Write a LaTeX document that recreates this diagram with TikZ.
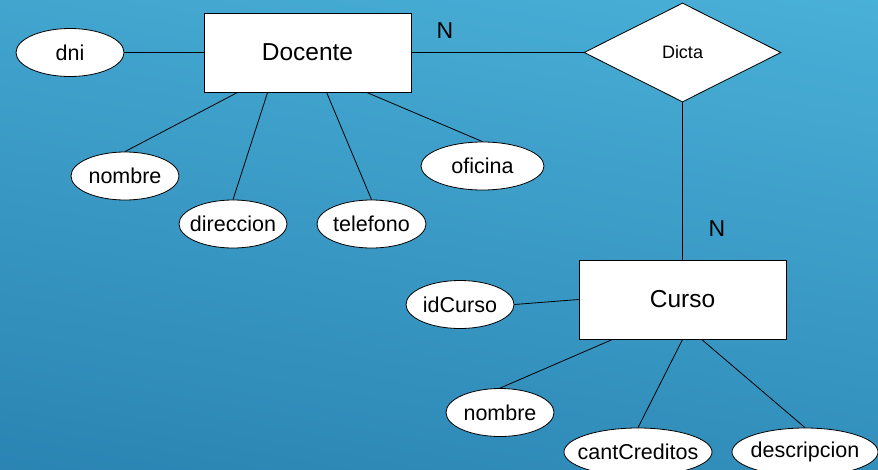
\documentclass[tikz,border=0pt]{standalone}
\usepackage{fontspec}
\setmainfont{Liberation Sans}
\usetikzlibrary{shapes.geometric}
\definecolor{bgtop}{RGB}{74,177,216}
\definecolor{bgbot}{RGB}{42,131,178}
\tikzset{
  entity/.style={draw=black, fill=white, line width=0.8pt, rectangle, minimum width=207pt, minimum height=79pt, inner sep=0pt, font=\fontsize{24.5}{28}\selectfont},
  attr/.style={draw=black, fill=white, line width=0.8pt, ellipse, minimum height=48pt, inner sep=0pt, font=\fontsize{21.5}{25}\selectfont},
  rel/.style={draw=black, fill=white, line width=0.8pt, diamond, minimum width=197pt, minimum height=99pt, inner sep=0pt, font=\fontsize{18}{21}\selectfont},
  conn/.style={draw=black, line width=0.8pt},
  card/.style={font=\fontsize{23}{26}\selectfont, inner sep=0pt}
}
\newcommand{\zb}[1]{\makebox[0pt]{#1}}
\begin{document}
\begin{tikzpicture}[x=1pt,y=-1pt]
\useasboundingbox (0,0) rectangle (878,469);
\shade[top color=bgtop, bottom color=bgbot, shading angle=-10] (-60,-60) rectangle (938,529);
% entities and relation
\node[entity] (doc) at (307.5,52.5) {Docente};
\node[entity] (cur) at (682.5,299.5) {Curso};
\node[rel] (dic) at (682.5,52.5) {\zb{Dicta}};
% Docente attributes
\node[attr, minimum width=108pt] (dni) at (70,52.5) {\zb{dni}};
\node[attr, minimum width=108pt] (nom) at (125,176) {\zb{nombre}};
\node[attr, minimum width=108pt] (dir) at (233,224) {\zb{direccion}};
\node[attr, minimum width=109pt] (tel) at (371.5,224) {\zb{telefono}};
\node[attr, minimum width=123pt] (ofi) at (482.5,166) {\zb{oficina}};
% Curso attributes
\node[attr, minimum width=108pt] (idc) at (460,304.5) {\zb{idCurso}};
\node[attr, minimum width=108pt] (nom2) at (500,412.5) {\zb{nombre}};
\node[attr, minimum width=148pt] (cc) at (638,452) {\zb{cantCreditos}};
\node[attr, minimum width=146pt] (des) at (805,452) {\zb{descripcion}};
% cardinalities
\node[card] (n1) at (445,31) {N};
\node[card] (n2) at (717,229) {N};
% connectors
\draw[conn] (dni.east) -- (doc.west);
\draw[conn] ([xshift=34pt]doc.south west) -- (nom.north);
\draw[conn] ([xshift=64pt]doc.south west) -- (dir.north);
\draw[conn] ([xshift=123pt]doc.south west) -- (tel.north);
\draw[conn] ([xshift=163pt]doc.south west) -- (ofi.north);
\draw[conn] (doc.east) -- (dic.west);
\draw[conn] (dic.south) -- (cur.north);
\draw[conn] (idc.east) -- (cur.west);
\draw[conn] ([xshift=34pt]cur.south west) -- (nom2.north);
\draw[conn] ([xshift=104pt]cur.south west) -- (cc.north);
\draw[conn] ([xshift=123pt]cur.south west) -- (des.north);
\end{tikzpicture}
\end{document}
